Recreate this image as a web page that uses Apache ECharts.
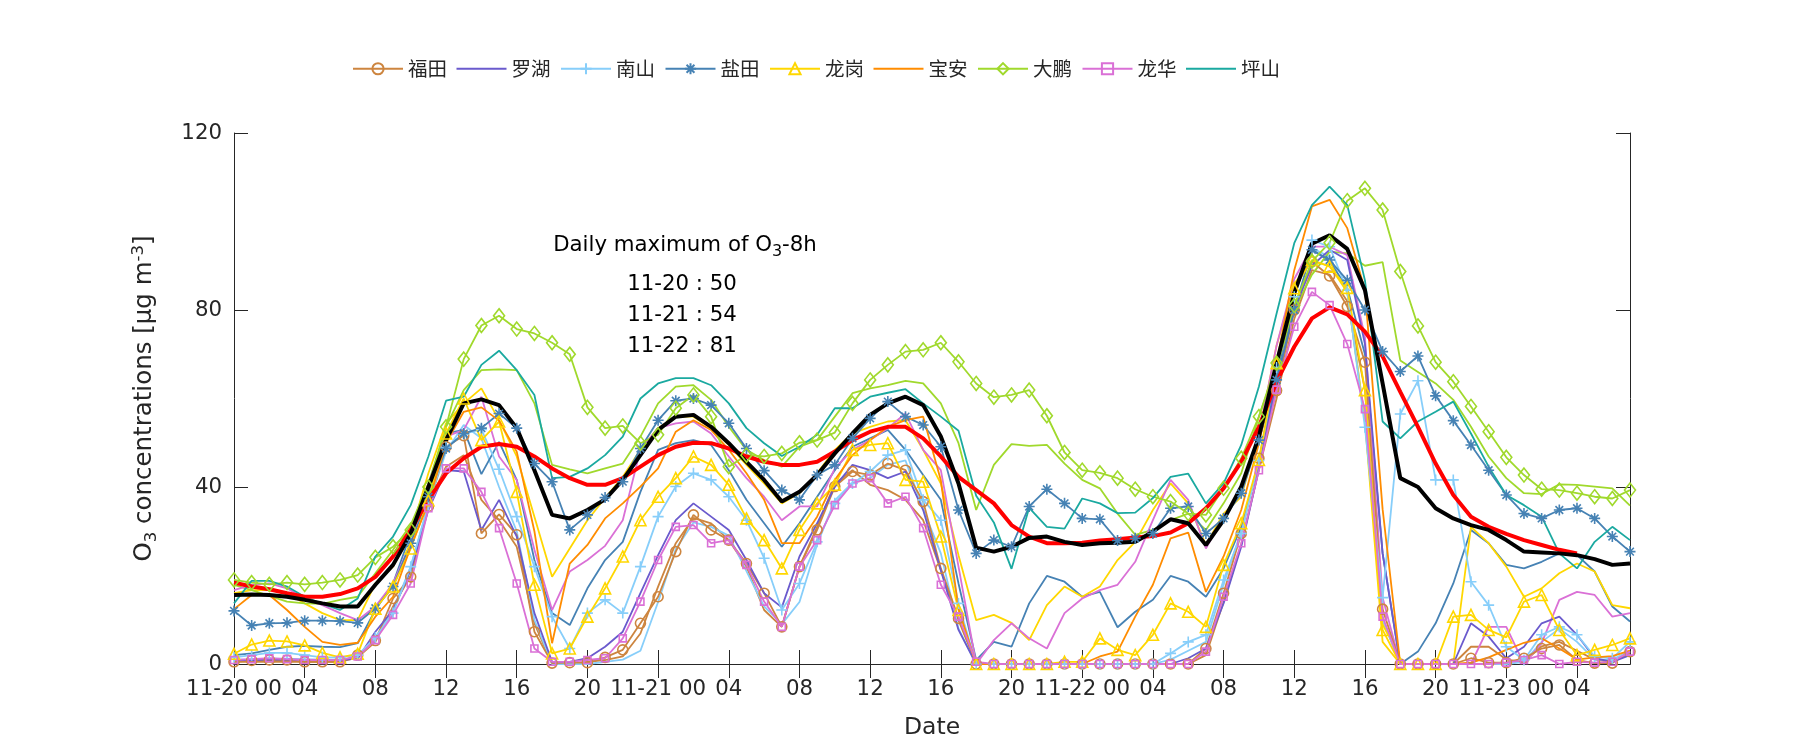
<!DOCTYPE html>
<html><head><meta charset="utf-8">
<script src="https://cdn.jsdelivr.net/npm/echarts/dist/echarts.min.js"></script>
<style>html,body{margin:0;padding:0;background:#fff}#c{width:1800px;height:750px}</style>
</head><body><div id="c"></div>
<script>
// ---------- categories / ticks ----------
const days = ['11-20', '11-21', '11-22', '11-23'];
const hoursCount = 80; // 11-20 00 .. 11-23 07
const categories = [];
for (let i = 0; i < hoursCount; i++) {
  categories.push(days[Math.floor(i / 24)] + ' ' + String(i % 24).padStart(2, '0'));
}
const yTicks = [0, 40, 80, 120];

// ---------- series values ----------
const futian = [0.5,0.8,0.9,0.9,0.5,0.5,0.5,2,5.3,14.8,19.7,35.6,49.1,51.6,29.5,33.8,29.2,7.3,0.2,0.3,
 0.3,1.5,3.2,9.2,15.2,25.4,33.7,30.3,28,22.7,16,8.4,22,30.3,40.1,43.5,42.7,45.3,43.8,36.7,
 21.6,10.3,0,0,0,0,0,0,0,0,0,0,0,0,0,3.5,16,29.5,46.5,61.8,
 80,90.9,87.7,80.8,68.2,12.4,0,0,0,0,1.3,0.3,0.3,1.3,3.5,4.3,0.9,0.2,0.2,2.8];
const futianB = [0.5,0.5,0.5,0.5,0.5,0.5,0.5,1.5,5,13,20,36.3,44.6,47.2,37.1,32.5,26.5,9.2,0,0,
 0.5,0.9,1.7,6.9,17.5,27.3,33,31.8,28,22,12.2,8.4,22,31,40.8,43.8,40.5,39.3,37.1,32.5,
 21.2,9.9,0,0,0,0,0,0,0,0,0,0,0,0,0,2,14,27,44,60,
 78,89,88,82,62,10,0,0,0,0,3.9,3.9,1,0.5,4,5,3,1,0.5,2.5];
const luohu = [0.9,0.9,1,1,1,0.9,0.9,1.2,7.3,12.2,21.2,34.8,43.8,43.5,30.3,37.1,28.8,11.5,0.5,0.5,
 1.3,3.9,7.3,16,24.6,32.5,36.3,33.3,30.3,23.5,16,12.8,24.3,31.8,40.1,45,43.8,42,43.5,34.8,
 21.2,7.7,0,0,0,0,0,0,0,0,0,0,0,0,1.3,3.5,13.7,26.5,44,64,
 80,90,93.6,91.3,72.3,25,0,0,0,0,9.2,6.2,1.3,3.9,9.2,10.7,6.6,1.3,0.5,2];
const nanshan = [1.5,2,2.5,2.5,2,1.5,1.5,2,6,11.5,22,36,49,52,53,44,33.3,22,10.7,3.5,
 11.5,14.5,11.5,22,33.3,40.1,43.1,41.6,37.8,32.5,23.9,12.2,18.2,27.6,36.3,40.8,43.5,47.2,48.4,37.1,
 32.5,13.7,0,0,0,0,0,0,0,0,0,0,0,2.4,5,6.6,19,29.5,46,67,
 83,95.8,94.3,84.5,53.5,15,56.5,64,41.6,41.6,18.6,13.3,3.9,0.9,6.6,8.4,6.6,1.7,1.3,5];
const nanshanB = [1,1,1.2,1.2,1,1,1,1.5,6,12,22,36,48,54,51,40,30,10,0,0,
 0,0.5,1,3,14,26,32,31,29,21,13,9,14,27,37,41,42,45,46,35,
 25,8,0,0,0,0,0,0,0,0,0,0,0,1,3,5,18,30,46,66,
 84,94,92,84,55,10,0,0,0,0,0,0,0,0.5,5,8,5,1,1,3];
const yantian = [12,8.7,9.2,9.3,9.8,9.8,9.7,9.3,12.6,17.5,27.3,37.8,48.7,52.1,53.3,56.6,53.3,45.3,41.2,30.3,
 33.7,37.6,41.2,48.7,55.1,59.5,60,58.5,54.4,48.7,43.7,39.3,37.1,42.7,45,51,55.5,59.3,55.9,54,
 49.1,34.8,25,28,26.5,35.6,39.5,36.3,32.9,32.7,27.9,28.4,29.5,35.2,35.6,29.5,32.9,38.6,50.6,64.2,
 80,93.6,91.3,86.7,80,70.6,66.1,69.6,60.6,55,49.5,43.8,38.2,34,32.9,34.8,35.2,32.9,28.8,25.4];
const yantianB = [2,2.4,3.2,3.9,4.1,3.9,3.8,4.7,12.2,18.2,29.5,38.6,52.1,52.9,42.9,50.2,41.6,23.5,11.5,8.8,
 17.1,23.5,27.6,38.9,48.4,49.9,50.6,49.5,43.8,37.1,31.8,26.5,31.8,37.8,43.8,49.1,51,52.9,48.4,42.7,
 37.1,18.2,0.9,5,3.9,13.7,19.9,18.6,15.2,16.3,8.3,11.8,14.5,19.9,18.6,15.2,21.6,31,45.3,64.9,
 83.8,93.6,91,85,70,25,0,2.8,9.2,18.2,30.3,27.3,22.4,21.6,23.1,25,24.6,20.9,13,9.6];
const longgang = [2.3,4.4,5.3,5.1,4.2,2.5,1.5,2.3,12.5,17.5,26.1,37,52.1,60,50.6,54.8,38.9,17.9,2.4,3.5,
 10.7,17.1,24.3,32.5,37.8,42,46.9,45,40.5,32.9,28,21.6,30.3,36.3,40.5,48.4,49.5,49.9,41.6,41.2,
 28.8,12.2,0,0,0,0,0,0.5,0.5,5.8,3.2,2,6.6,13.7,11.8,8.4,22.4,31.8,46.1,68,
 84.9,91.3,89.8,85,61.9,7.7,0,0,0,10.7,11.1,7.7,6,14.1,15.6,7.7,2,3.2,4.3,5.8];
const longgangB = [16,16.7,16.7,16,13.7,11.5,9.9,9.9,18.2,22,29.5,43.1,54.4,58.9,62.3,55.1,46.9,33.3,19.7,26.1,
 32.5,37.5,42.3,48.4,53.3,55.9,55.9,53.3,49.5,45,40.8,36.3,38.6,43.1,48.4,52.1,53.6,54.8,55.1,48.4,
 40.8,24.6,9.9,11.1,9.3,5.4,13.3,17.5,15.2,17.5,23.5,27.6,34.8,40.8,36.3,26.9,34,37.8,52,72,
 86,91,90,84,55,5,0,0,0,0,31,27.3,22,15.2,17.1,20.5,22.7,20.9,13.3,12.6];
const baoan = [12.4,15.6,15.6,12.2,8.4,5,4.3,4.8,10.7,15.2,26.5,36.3,50,57,58,55,48,30,4.7,22.7,
 26.9,32.9,36.3,40.1,44.2,52.5,55.1,52.9,48.4,43.1,37.1,27.3,27.3,33.3,41.6,47.2,50.6,53.6,55.1,55.9,
 41.5,12.5,0,0,0,0,0,0,0,1.7,2.8,10.7,17.9,28.4,29.7,16.3,24.3,34.8,49.9,68,
 89,103.4,104.9,98.5,84.5,35,0,0,0,0,0.3,1.5,3.2,4.8,5.8,3.5,1,1.5,1.8,3];
const dapeng = [19,18.4,18,18.4,18,18.4,19,20.1,24.1,26.5,30.3,40,53.6,68.9,76.5,78.7,75.7,74.7,72.6,70,
 58,53.3,53.8,49.9,51.8,57.8,60.8,55.9,44.6,47.2,46.9,47.6,50,50.6,52.3,58.9,64.2,67.6,70.6,71,
 72.6,68.3,63.4,60.3,60.8,61.9,56.1,47.8,43.8,43.2,42,39.5,37.8,36.7,34,33.7,39.7,46.5,55.9,68,
 81,91,95.2,104.7,107.5,102.6,88.7,76.4,68.2,63.8,58.2,52.5,46.7,42.7,39.5,39.3,38.6,37.8,37.4,39.3];
const dapengB = [17.9,16.7,15.4,14.1,13.7,13.6,14.5,15.2,20.5,25.8,31.4,40.8,53.6,61.9,66.4,66.6,66.4,58.9,45,44,
 43.1,44.2,45.3,51.4,58.9,62.7,63,59.7,53.6,48.4,46.1,44.6,49.1,50.6,55.9,61.2,62.3,63,64,63.4,
 58.9,49.9,34.8,45,49.7,49.3,49.5,45.3,41.6,39.7,34,29.2,30.3,32.5,34,30.3,36.3,43.1,55.9,67.2,
 80,88,93.2,92.8,90,90.8,68.6,66,63.4,59.7,53.6,46.9,42,38.6,38.4,40.6,40.5,40.1,39.7,35.8];
const longhua = [0.9,1.1,1.3,1.1,0.9,0.9,0.9,1.7,5.4,11.1,18.2,35.2,44.2,44.2,38.9,30.7,18.2,3.5,0.5,0.5,
 0.9,1.3,5.8,14.1,23.5,31,31.4,27.3,28,22.4,14.1,8.4,22,28,35.9,40.8,42,36.3,37.8,30.7,
 17.9,10.7,0.5,0,0,0,0,0,0,0,0,0,0,0,0,2.8,15.2,27.3,43.8,62,
 76.2,84.1,81.1,72.3,57.6,10.7,0,0,0,0,0,0,0.3,0.9,2,0,0.5,0.3,0.5,2.8];
const longhuaB = [16.7,17.9,18.2,17.1,14.8,13.3,11.5,9.9,13,18.2,27.3,40.8,51.4,52.9,60.4,46.9,41.6,25.8,12.2,20.9,
 23.5,26.7,32.5,48.4,53.3,54.4,54.8,52.1,46.9,42,37.8,32.5,35.6,35.6,44.2,48.4,50.6,53.3,56.6,48.4,
 43.8,22,0,5.4,9.2,5.8,3.5,11.5,14.8,16.7,17.9,23.1,32.5,41.6,37.1,26.1,33.3,38.6,52,72,
 87,94.3,94.3,92.4,73.8,15,0,0,0,0,0,8.4,8.4,0,4.7,14.5,16.3,15.6,10.7,11.5];
const pingshan = [13.7,18.8,18.8,17.5,15.2,13.6,12.2,14.8,24.3,28.8,35.9,46.9,59.5,60.4,67.6,70.8,66.4,60.8,42,42.3,
 44.2,47.2,51.4,60,63.4,64.6,64.6,63,58.9,53.3,49.9,47,49.1,51.8,57.8,57.8,60.4,61.3,62.1,58.9,
 55.9,52.7,38,32,21.5,35.3,31,30.6,37.4,36.3,34.1,34.2,37.5,42.3,43,36.3,40.8,49.5,62.7,79.2,
 95.1,103.7,107.9,103.7,86.7,54.8,51,54.8,57,59.3,52.1,44.6,38.2,35.9,33.3,25,21.6,27.6,31,28];
const meanHourly = [15.6,15.7,15.6,15.2,14.5,13.7,13,13,17.9,22.4,29.5,40,50.6,58.9,59.8,58.5,53.3,43.8,33.7,32.9,
 34.8,37.2,41.6,47.2,52.9,55.9,56.3,53.6,49.9,45.7,41.6,36.7,38.9,42.7,47.6,52.1,56.3,58.9,60.4,58.5,
 51.4,40.8,26.3,25.4,26.5,28.5,28.8,27.6,26.9,27.3,27.4,27.6,29.9,32.7,31.8,26.9,32.5,40.1,51.4,68,
 83.8,95,96.9,93.8,84.5,63.4,42,40,35.2,32.9,31.4,30.3,28,25.4,25.2,25,24.6,23.7,22.4,22.7];
const mean8h = [18.4,17.5,16.9,16,15.2,15.2,15.8,17.1,19.7,24.3,30.3,37.1,43.1,46.5,49.1,49.7,49.1,46.9,44.2,42,
 40.5,40.5,42,44.6,47.2,49.1,50,49.9,48.7,46.9,45.7,45,45,45.7,48,50.6,52.5,53.6,53.6,51,
 46.9,42.3,39.3,36.3,31.4,28.8,27.3,27.3,27.4,27.9,28.2,28.6,28.9,29.7,31.8,35.2,39.7,45.7,53.6,63.8,
 71.7,78.1,80.6,79,75.1,69.5,61.5,53.6,45.3,38.2,33.3,31,29.4,28,26.9,25.8,25,null,null,null];

const stationNames = ['福田','罗湖','南山','盐田','龙岗','宝安','大鹏','龙华','坪山'];
const annotationLines = ['11-20 : 50', '11-21 : 54', '11-22 : 81'];

// ---------- styling ----------
const colors = {
  futian: '#CD853F', luohu: '#6A5ACD', nanshan: '#87CEFA', yantian: '#4682B4',
  longgang: '#FFD700', baoan: '#FF8C00', dapeng: '#A0D92C', longhua: '#DA70D6', pingshan: '#1AA9A0'
};
const stationColor = {
  '福田': colors.futian, '罗湖': colors.luohu, '南山': colors.nanshan, '盐田': colors.yantian,
  '龙岗': colors.longgang, '宝安': colors.baoan, '大鹏': colors.dapeng, '龙华': colors.longhua, '坪山': colors.pingshan
};
const noMarker = { '罗湖': true, '宝安': true, '坪山': true };
const PLUS = 'path://M5,0L5,10M0,5L10,5';
const STAR = 'path://M5,0L5,10M0,5L10,5M1.5,1.5L8.5,8.5M1.5,8.5L8.5,1.5';
const FONT = 'DejaVu Sans';
const INK = '#262626';

function line(name, data, color, sym, size, width) {
  return {
    type: 'line', name: name, data: data,
    xAxisIndex: 0, yAxisIndex: 0,
    symbol: sym || 'none', showSymbol: !!sym, symbolSize: size || 10,
    showAllSymbol: true,
    lineStyle: { color: color, width: width || 1.8 },
    itemStyle: { color: 'rgba(0,0,0,0)', borderColor: color, borderWidth: 1.6 },
    emphasis: { disabled: true },
    silent: true, animation: false
  };
}

const series = [
  line('福田 b', futianB, colors.futian),
  line('南山 b', nanshanB, colors.nanshan),
  line('盐田 b', yantianB, colors.yantian),
  line('龙岗 b', longgangB, colors.longgang),
  line('大鹏 b', dapengB, colors.dapeng),
  line('龙华 b', longhuaB, colors.longhua),
  line('福田', futian, colors.futian, 'circle', 10),
  line('罗湖', luohu, colors.luohu),
  line('南山', nanshan, colors.nanshan, PLUS, 11),
  line('盐田', yantian, colors.yantian, STAR, 11),
  line('龙岗', longgang, colors.longgang, 'triangle', 11),
  line('宝安', baoan, colors.baoan),
  line('大鹏', dapeng, colors.dapeng, 'diamond', [11, 14]),
  line('龙华', longhua, colors.longhua, 'rect', 7),
  line('坪山', pingshan, colors.pingshan),
  line('mean 8h', mean8h, '#FF0000', null, null, 4),
  line('mean', meanHourly, '#000000', null, null, 4)
];

const legendData = stationNames.map(function (n) {
  if (noMarker[n]) {
    return { name: n, icon: 'path://M0,0L50,0L50,2L0,2Z',
             itemStyle: { color: stationColor[n], borderWidth: 0 } };
  }
  return { name: n };
});

const axisLineStyle = { show: true, lineStyle: { color: INK, width: 1 } };
const tickStyle = { show: true, inside: true, length: 14, lineStyle: { color: INK, width: 1 } };

const option = {
  backgroundColor: '#ffffff',
  animation: false,
  grid: { left: 234, right: 170, top: 133, bottom: 86, containLabel: false, outerBoundsMode: 'none' },
  legend: {
    data: legendData, left: 352, top: 59, padding: 0,
    itemWidth: 50, itemHeight: 14, itemGap: 9.5,
    textStyle: { fontFamily: 'Noto Sans CJK SC', fontSize: 19.5, color: INK }
  },
  xAxis: [{
    type: 'category', data: categories, boundaryGap: false, position: 'bottom',
    axisLine: axisLineStyle,
    axisTick: Object.assign({ interval: 3 }, tickStyle),
    axisLabel: {
      interval: 3, margin: 15, fontFamily: FONT, fontSize: 21.3, color: INK,
      formatter: function (v, i) { return i % 24 === 0 ? v : v.slice(-2); }
    },
    splitLine: { show: false },
    name: 'Date', nameLocation: 'middle', nameGap: 52,
    nameTextStyle: { fontFamily: FONT, fontSize: 23.5, color: INK }
  }, {
    type: 'category', data: categories, boundaryGap: false, position: 'top',
    axisLine: axisLineStyle,
    axisTick: Object.assign({ interval: 3 }, tickStyle),
    axisLabel: { show: false }, splitLine: { show: false }
  }],
  yAxis: [{
    type: 'value', min: yTicks[0], max: yTicks[yTicks.length - 1], interval: 40, position: 'left',
    axisLine: axisLineStyle, axisTick: tickStyle,
    axisLabel: { margin: 12, fontFamily: FONT, fontSize: 21.3, color: INK },
    splitLine: { show: false },
    name: '{n|O}{s|3}{n| concentrations [μg m}{p|-3}{n|]}',
    nameLocation: 'middle', nameGap: 74, nameRotate: 90,
    nameTextStyle: {
      fontFamily: FONT, fontSize: 24.5, color: INK,
      rich: {
        n: { fontFamily: FONT, fontSize: 24.5, color: INK, lineHeight: 30 },
        s: { fontFamily: FONT, fontSize: 16.5, color: INK, lineHeight: 4, verticalAlign: 'bottom' },
        p: { fontFamily: FONT, fontSize: 16.5, color: INK, lineHeight: 14, verticalAlign: 'top' }
      }
    }
  }, {
    type: 'value', min: yTicks[0], max: yTicks[yTicks.length - 1], interval: 40, position: 'right',
    axisLine: axisLineStyle, axisTick: tickStyle,
    axisLabel: { show: false }, splitLine: { show: false }
  }],
  graphic: [
    {
      type: 'text', x: 685, y: 245, silent: true,
      style: {
        text: '{n|Daily maximum of O}{s|3}{n|-8h}',
        align: 'center', verticalAlign: 'middle',
        rich: {
          n: { fontFamily: FONT, fontSize: 21.3, fill: '#000', lineHeight: 30 },
          s: { fontFamily: FONT, fontSize: 16, fill: '#000', lineHeight: 2, verticalAlign: 'bottom' }
        }
      }
    }
  ].concat(annotationLines.map(function (t, i) {
    return {
      type: 'text', x: 682, y: [284, 315, 346][i], silent: true,
      style: { text: t, align: 'center', verticalAlign: 'middle', fontFamily: FONT, fontSize: 21.3, fill: '#000' }
    };
  })),
  series: series
};

const chart = echarts.init(document.getElementById('c'), null, { renderer: 'canvas' });
chart.setOption(option);
</script></body></html>
